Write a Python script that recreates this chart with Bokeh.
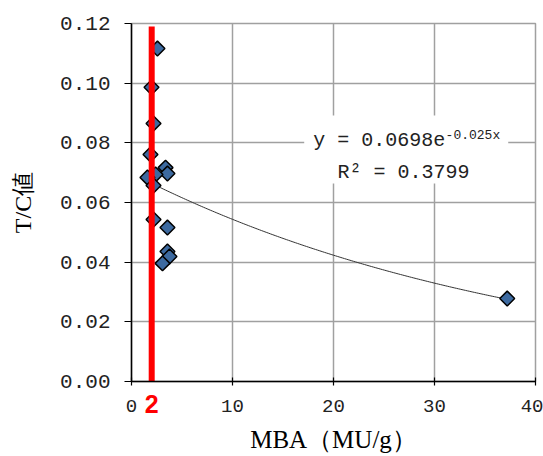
import numpy as np
from bokeh.plotting import figure
from bokeh.models import (ColumnDataSource, FixedTicker, NumeralTickFormatter,
                          BoxAnnotation, Label, LinearAxis)
from bokeh.embed import file_html
from bokeh.resources import INLINE

# Data
mba = [2.57, 1.98, 2.18, 1.88, 3.37, 3.56, 2.38, 1.58, 2.18, 2.18, 3.56, 3.56, 3.76, 3.07, 37.2]
tc = [0.1116, 0.0986, 0.0865, 0.0761, 0.0717, 0.0697, 0.0694, 0.0684, 0.0657,
      0.0543, 0.0516, 0.0436, 0.0419, 0.0396, 0.0278]

# Fitted trend (as printed on the chart)
fit_a = 0.0698
fit_b = -0.025
eq_text = "y = 0.0698e"
eq_exp = "-0.025x"
r2_text = "R\u00b2 = 0.3799"

x_ticks = [0, 10, 20, 30, 40]
y_ticks = [0.0, 0.02, 0.04, 0.06, 0.08, 0.10, 0.12]
marker_x = 2
marker_label = "2"
x_title = "MBA（MU/g）"
y_title = "T/C値"

p = figure(width=543, height=456, output_backend="svg", toolbar_location=None,
           x_range=(0, 40), y_range=(0, 0.12),
           min_border_left=131, min_border_right=8, min_border_top=23, min_border_bottom=75)

p.background_fill_color = "white"
p.border_fill_color = "white"
p.outline_line_color = "#a0a0a0"
p.outline_line_width = 1.5

for ax in (p.xaxis[0], p.yaxis[0]):
    ax.axis_line_color = "black"
    ax.axis_line_width = 1.5
    ax.major_tick_line_color = "black"
    ax.major_tick_line_width = 1.2
    ax.minor_tick_line_color = None
    ax.major_label_text_color = "#222222"
    ax.axis_label_text_color = "black"
    ax.axis_label_text_font_style = "normal"

p.xaxis.ticker = FixedTicker(ticks=x_ticks)
p.yaxis.ticker = FixedTicker(ticks=y_ticks)
p.yaxis.formatter = NumeralTickFormatter(format="0.00")
p.xaxis.major_tick_in = 4
p.xaxis.major_tick_out = 4
p.yaxis.major_tick_in = 0
p.yaxis.major_tick_out = 7
p.xaxis.major_label_text_font = "Liberation Mono"
p.yaxis.major_label_text_font = "Liberation Mono"
p.xaxis.major_label_text_font_size = "19px"
p.yaxis.major_label_text_font_size = "21px"
p.xaxis.major_label_standoff = 14
p.yaxis.major_label_standoff = 14

p.yaxis.axis_label = y_title
p.yaxis.axis_label_text_font = "Liberation Serif"
p.yaxis.axis_label_text_font_size = "24px"
p.yaxis.axis_label_standoff = 21

p.xgrid.grid_line_color = "#a0a0a0"
p.ygrid.grid_line_color = "#a0a0a0"
p.xgrid.grid_line_width = 1.5
p.ygrid.grid_line_width = 1.5
p.xgrid.ticker = FixedTicker(ticks=x_ticks)
p.ygrid.ticker = FixedTicker(ticks=y_ticks)

# trend line
xs = np.linspace(min(mba), max(mba), 200)
p.line(xs, fit_a * np.exp(fit_b * xs), line_color="#333333", line_width=1)

# points
src = ColumnDataSource(dict(x=mba, y=tc))
p.scatter("x", "y", source=src, marker="square", angle=np.pi / 4, size=10.5,
          fill_color="#3d6aa0", line_color="black", line_width=1.5)

# red marker line
p.segment(x0=[marker_x], y0=[0.0], x1=[marker_x], y1=[0.119], line_color="red",
          line_width=6, line_cap="butt")

# second bottom axis: carries the red "2" (pulled up beside the tick labels) and the x title
mark_axis = LinearAxis(ticker=FixedTicker(ticks=[marker_x]),
                       axis_line_color=None, major_tick_line_color=None,
                       minor_tick_line_color=None,
                       major_label_overrides={marker_x: marker_label},
                       major_label_text_color="red",
                       major_label_text_font="Liberation Sans",
                       major_label_text_font_style="bold",
                       major_label_text_font_size="25px",
                       major_tick_in=0, major_tick_out=0,
                       major_label_standoff=-20,
                       axis_label=x_title,
                       axis_label_text_font="Liberation Serif",
                       axis_label_text_font_size="25px",
                       axis_label_text_font_style="normal",
                       axis_label_text_color="black",
                       axis_label_standoff=10)
p.add_layout(mark_axis, "below")

# equation box
p.add_layout(BoxAnnotation(left=17.1, right=37.3, bottom=0.0664, top=0.0892,
                           fill_color="white", fill_alpha=1.0, line_color=None,
                           level="overlay"))
p.add_layout(Label(x=18.0, y=0.0808, text=eq_text, text_font="Liberation Mono",
                   text_font_size="20px", text_color="#222222", text_baseline="alphabetic",
                   level="overlay"))
p.add_layout(Label(x=31.1, y=0.0826, text=eq_exp, text_font="Liberation Mono",
                   text_font_size="13px", text_color="#222222", text_baseline="alphabetic",
                   level="overlay"))
p.add_layout(Label(x=20.4, y=0.0701, text=r2_text, text_font="Liberation Mono",
                   text_font_size="20px", text_color="#222222", text_baseline="alphabetic",
                   level="overlay"))

open("out.html", "w").write(file_html(p, INLINE))
